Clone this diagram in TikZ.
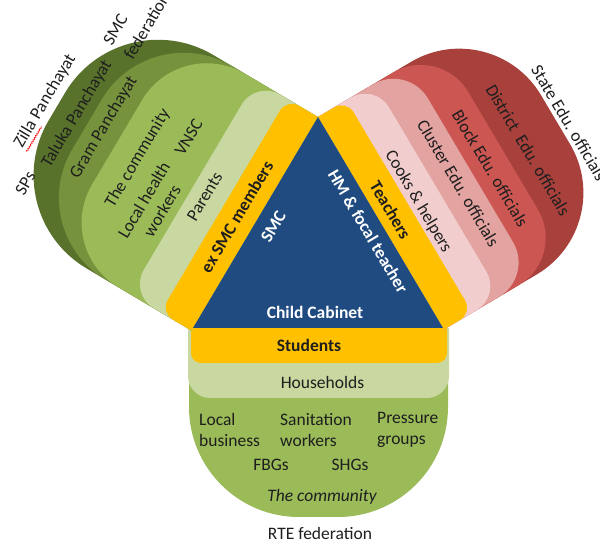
\documentclass[tikz,border=0pt]{standalone}
\usepackage{fontspec}
\setmainfont{Carlito}
\usetikzlibrary{decorations.pathmorphing}
\definecolor{tri}{RGB}{31,75,128}
\definecolor{gold}{RGB}{255,192,0}
\definecolor{gA}{RGB}{200,216,160}
\definecolor{gB}{RGB}{155,187,89}
\definecolor{gC}{RGB}{118,146,60}
\definecolor{gD}{RGB}{88,114,44}
\definecolor{rA}{RGB}{241,206,205}
\definecolor{rB}{RGB}{226,163,161}
\definecolor{rC}{RGB}{204,86,82}
\definecolor{rD}{RGB}{168,64,60}
\definecolor{ink}{RGB}{30,30,30}
% arm layer in a local frame: fill, u-low, u-high, depth, radius
\newcommand\armlayer[5]{\fill[#1] (#2,0) -- (#2,{#4-#5}) arc[start angle=180,end angle=90,radius=#5] -- ({#3-#5},#4) arc[start angle=90,end angle=0,radius=#5] -- (#3,0) -- cycle;}
% bottom arm layer: fill, x-left, x-right, bottom y, radius
\newcommand\botlayer[5]{\fill[#1] (#2,212) -- (#2,{#4+#5}) arc[start angle=180,end angle=270,radius=#5] -- ({#3-#5},#4) arc[start angle=270,end angle=360,radius=#5] -- (#3,212) -- cycle;}
\begin{document}
\begin{tikzpicture}[x=1pt,y=1pt,
  lbl/.style={font=\fontsize{17.5}{21}\selectfont, text=ink, inner sep=0pt, align=center},
  blbl/.style={lbl, font=\fontsize{17.5}{21}\selectfont\bfseries},
  wlbl/.style={blbl, text=white},
  leftframe/.style={shift={(193,212)},rotate=59.35,transform shape},
  rightframe/.style={shift={(318,423)},rotate=-59.35,transform shape}]
\useasboundingbox (0,0) rectangle (600,540);
% bottom arm
\botlayer{gB}{189}{448}{23}{110}
\botlayer{gA}{188}{449}{142}{22}
\botlayer{gold}{191}{447}{177}{10}
% left arm
\begin{scope}[leftframe]
\armlayer{gD}{-3}{245.2}{230}{108}
\armlayer{gC}{-3}{245.2}{195}{95}
\armlayer{gB}{-3}{245.2}{160}{75}
\armlayer{gA}{-3}{245.2}{72}{28}
\armlayer{gold}{-3}{245.2}{36}{14}
\end{scope}
% right arm
\begin{scope}[rightframe]
\armlayer{rD}{0}{247}{203}{95}
\armlayer{rC}{0}{247}{142}{55}
\armlayer{rB}{0}{247}{104}{40}
\armlayer{rA}{0}{247}{66}{28}
\armlayer{gold}{0}{247}{33}{14}
\end{scope}
% central triangle
\fill[tri] (193,212) -- (318,423) -- (443,212) -- cycle;
% left texts
\begin{scope}[leftframe]
\node[wlbl] (smcin) at (128,-17.5) {SMC};
\node[blbl] (exsmc) at (118,19) {ex SMC members};
\node[lbl] (parents) at (119,57) {Parents};
\node[lbl] (lhw) at (85,97) {Local health\\workers};
\node[lbl] (vnsc) at (162,101) {VNSC};
\node[lbl] (comL) at (118,134) {The community};
\node[lbl] (gram) at (127,179) {Gram Panchayat};
\node[lbl] (taluka) at (125,209) {Taluka Panchayat};
\node[lbl] (sps) at (39,218) {SPs};
\node[lbl] (zilla) at (120,243) {Zilla Panchayat};
\draw[red, line width=0.6pt, decorate, decoration={snake,amplitude=0.7pt,segment length=2.5pt}] (67,233) -- (96,233);
\node[lbl,anchor=west] (smcout) at (201,219) {SMC};
\node[lbl,anchor=west] (fed) at (199,194) {federation};
\end{scope}
% right texts
\begin{scope}[rightframe]
\node[wlbl] (hm) at (124,-15) {HM \& focal teacher};
\node[blbl] (teach) at (117,15) {Teachers};
\node[lbl] (cooks) at (124,43) {Cooks \& helpers};
\node[lbl] (cluster) at (128.5,87) {Cluster Edu. officials};
\node[lbl] (block) at (132,122) {Block Edu. officials};
\node[lbl] (district) at (135.6,164) {District\ \ Edu. officials};
\node[lbl] (state) at (133,213) {State Edu. officials};
\end{scope}
% bottom texts
\node[wlbl] (cab) at (315,227.5) {Child Cabinet};
\node[blbl] (stu) at (309,195) {Students};
\node[lbl] (hh) at (322.5,158) {Households};
\node[lbl,anchor=west,align=left] (lb) at (199,110) {Local\\business};
\node[lbl,anchor=west,align=left] (san) at (280,110) {Sanitation\\workers};
\node[lbl,anchor=west,align=left] (pg) at (377,110) {Pressure\\groups};
\node[lbl] (fbg) at (271,75) {FBGs};
\node[lbl] (shg) at (350,75) {SHGs};
\node[lbl,font=\fontsize{17.5}{21}\selectfont\itshape] (comB) at (322,43) {The community};
\node[lbl] (rte) at (320,7) {RTE federation};
\end{tikzpicture}
\end{document}
